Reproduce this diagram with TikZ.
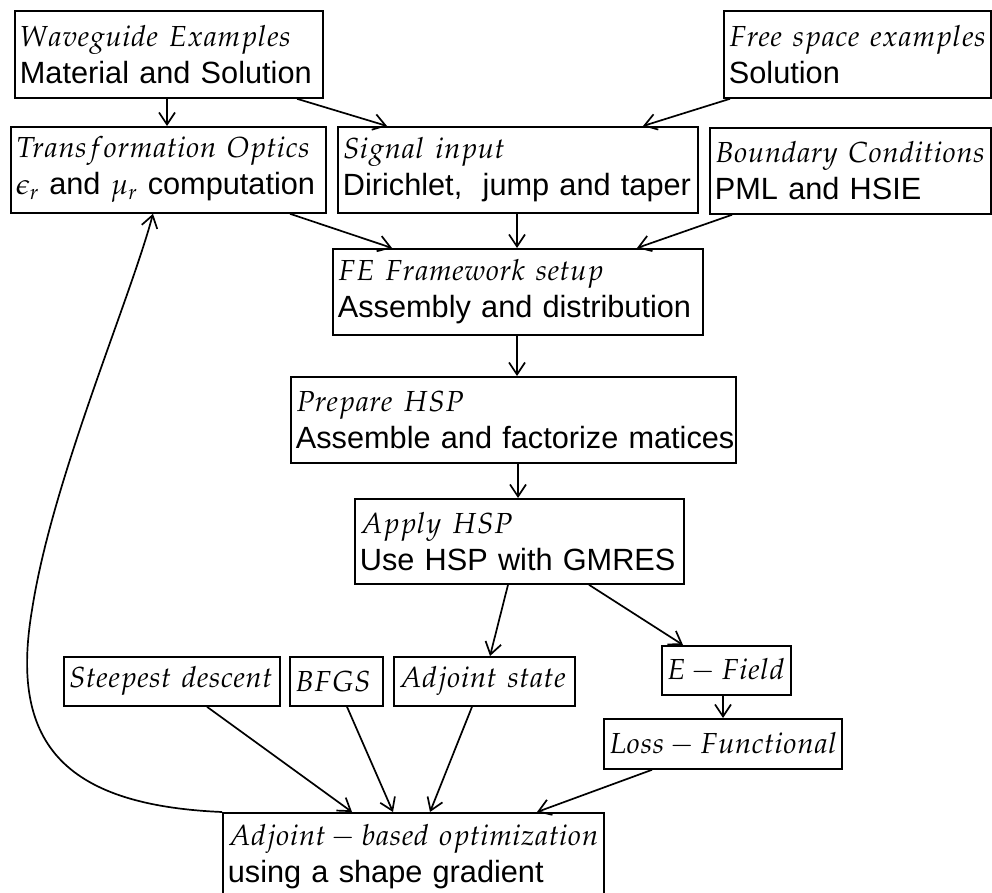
\documentclass[tikz,border=0pt]{standalone}
\usepackage{mathpazo}
\usepackage{fontspec}
\setmainfont{Liberation Sans}
\DeclareMathSizes{30.7}{29}{21}{16}
\usetikzlibrary{arrows.meta,calc}
\newcommand{\Lline}[1]{\mbox{#1}}
\tikzset{
  box/.style={draw, line width=1.8pt, anchor=north west, inner xsep=5pt, inner ysep=0pt,
    align=left, font=\fontsize{30.7}{37}\selectfont},
  arr/.style={line width=1.7pt, -{Straight Barb[length=12pt,width=16pt]}}
}
\begin{document}
\begin{tikzpicture}[x=1pt,y=-1pt]
\useasboundingbox (0,0) rectangle (992,893);
\clip (0,0) rectangle (992,893);
\node[box, text width=298pt, minimum height=87pt] (wg) at (14,10) {\Lline{$Waveguide\ Examples$}\\\Lline{Material and Solution}};
\node[box, text width=257pt, minimum height=87pt] (fs) at (723,10) {\Lline{$Free\ space\ examples$}\\\Lline{Solution}};
\node[box, text width=305pt, minimum height=86pt] (to) at (10,126) {\Lline{$Transformation\ Optics$}\\\Lline{$\epsilon_r$ and $\mu_r$ computation}};
\node[box, text width=350pt, minimum height=86pt] (si) at (337,126) {\Lline{$Signal\ input$}\\\Lline{Dirichlet,\ \ jump and taper}};
\node[box, text width=271pt, minimum height=86pt] (bc) at (709,127) {\Lline{$Boundary\ Conditions$}\\\Lline{PML and HSIE}};
\node[box, text width=360pt, minimum height=86pt] (fe) at (332,248) {\Lline{$FE\ Framework\ setup$}\\\Lline{Assembly and distribution}};
\node[box, text width=435pt, minimum height=86pt] (ph) at (290,376) {\Lline{$Prepare\ HSP$}\\\Lline{Assemble and factorize matices}};
\node[box, text width=319pt, minimum height=85pt] (ah) at (354,498) {\Lline{$Apply\ HSP$}\\\Lline{Use HSP with GMRES}};
\node[box, text width=206pt, minimum height=49pt] (sd) at (63,656) {\Lline{$Steepest\ descent$}};
\node[box, text width=83pt, minimum height=49pt] (bf) at (289,656) {\Lline{$BFGS$}};
\node[box, text width=171pt, minimum height=49pt] (as) at (393,656) {\Lline{$Adjoint\ state$}};
\node[box, text width=119pt, minimum height=49pt] (ef) at (661,645) {\Lline{$E-Field$}};
\node[box, text width=228pt, minimum height=50pt] (lf) at (603,718) {\Lline{$Loss-Functional$}};
\node[box, text width=371pt, minimum height=87pt] (ab) at (222,812) {\Lline{$Adjoint-based\ optimization$}\\\Lline{using a shape gradient}};

\draw[arr] ($(wg.south west)+(153,0)$) -- ($(to.north west)+(157,0)$);
\draw[arr] ($(wg.south west)+(283,0)$) -- ($(si.north west)+(50,0)$);
\draw[arr] ($(fs.south west)+(7,0)$) -- ($(si.north west)+(306,0)$);
\draw[arr] ($(to.south west)+(280,0)$) -- ($(fe.north west)+(60,0)$);
\draw[arr] ($(si.south west)+(180,0)$) -- ($(fe.north west)+(185,0)$);
\draw[arr] ($(bc.south west)+(23,0)$) -- ($(fe.north west)+(305,0)$);
\draw[arr] ($(fe.south west)+(185,0)$) -- ($(ph.north west)+(227,0)$);
\draw[arr] ($(ph.south west)+(228,0)$) -- ($(ah.north west)+(164,0)$);
\draw[arr] ($(ah.south west)+(154,0)$) -- ($(as.north west)+(97,0)$);
\draw[arr] ($(ah.south west)+(235,0)$) -- ($(ef.north west)+(22,0)$);
\draw[arr] ($(ef.south west)+(62,0)$) -- ($(lf.north west)+(120,0)$);
\draw[arr] ($(sd.south west)+(144,0)$) -- ($(ab.north west)+(130,0)$);
\draw[arr] ($(bf.south west)+(58,0)$) -- ($(ab.north west)+(171,0)$);
\draw[arr] ($(as.south west)+(79,0)$) -- ($(ab.north west)+(208,0)$);
\draw[arr] ($(lf.south west)+(49,0)$) -- ($(ab.north west)+(315,0)$);
\coordinate (bend) at (32,610);
\draw[arr] (ab.north west) .. controls (60,805) and (10,740) .. (bend)
  .. controls (52,480) and (130,300) .. ($(to.south west)+(143,0)$);
\end{tikzpicture}
\end{document}
